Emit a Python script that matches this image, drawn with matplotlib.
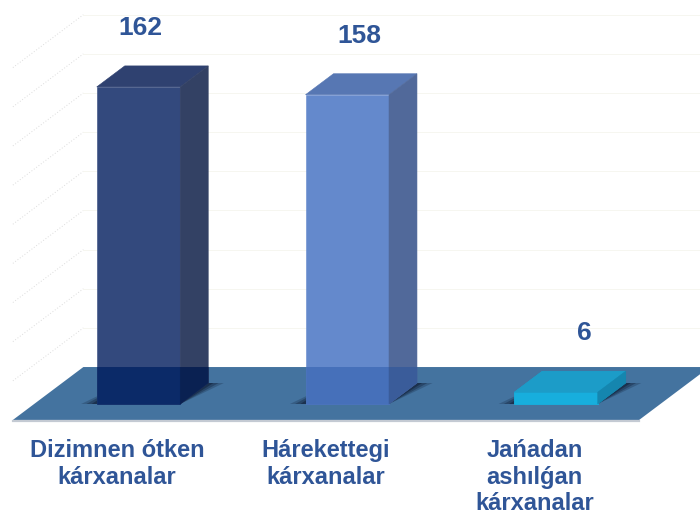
import matplotlib
matplotlib.use("Agg")
import matplotlib.pyplot as plt
from matplotlib.patches import Polygon

plt.rcParams['font.family'] = ['Liberation Sans', 'DejaVu Sans']

# data
categories = ["Dizimnen ótken\nkárxanalar", "Hárekettegi\nkárxanalar", "Jańadan\nashılǵan\nkárxanalar"]
values = [162, 158, 6]
grid_values = [20, 40, 60, 80, 100, 120, 140, 160, 180]

# colours: front, top, side (above floor) and front, top, side (inside floor)
upper_colors = [("#33497d", "#2f4170", "#334164"),
                ("#6489cc", "#5777b3", "#51699a"),
                ("#17aedd", "#1c9cc8", "#1586af")]
lower_colors = [("#0b2a68", "#0b2a68", "#0a2152"),
                ("#4670ba", "#4670ba", "#3a5c9a"),
                ("#17aedd", "#1c9cc8", "#1586af")]
text_color = "#2f5597"
floor_color = "#44739f"

# oblique projection (depth offsets in data units)
DX = 0.134
DY = 10.73
BAR_W = 0.40
FLOOR_D0, FLOOR_D1 = -0.76, 1.76
lab_dx = [-0.125, -0.075, 0.0]


def proj(x, v, d):
    return (x + d * DX, v + d * DY)


fig = plt.figure(figsize=(7, 5.14), dpi=100)
ax = fig.add_axes([0, 0, 1, 1])
ax.set_xlim(-0.6635, 2.6898)
ax.set_ylim(-56.2, 206.4)
ax.axis('off')

# grid lines: left wall and back wall (very faint)
for g in grid_values:
    p0 = proj(-0.5, g, FLOOR_D0)
    p1 = proj(-0.5, g, FLOOR_D1)
    ax.plot([p0[0], p1[0]], [p0[1], p1[1]], color="#dcdcdc", lw=0.7,
            ls=(0, (1, 2)), zorder=0)
    p2 = proj(2.5, g, FLOOR_D1)
    ax.plot([p1[0], p2[0]], [p1[1], p2[1]], color="#f6f6f0", lw=0.7, zorder=0)

# floor
n = len(values)
floor_pts = [proj(-0.5, 0, FLOOR_D0), proj(n - 0.5, 0, FLOOR_D0),
             proj(n - 0.5, 0, FLOOR_D1), proj(-0.5, 0, FLOOR_D1)]
floor = Polygon(floor_pts, closed=True, facecolor=floor_color, edgecolor="none", zorder=1)
ax.add_patch(floor)
ax.plot([floor_pts[0][0], floor_pts[1][0]], [floor_pts[0][1] - 0.6, floor_pts[1][1] - 0.6],
        color="#c4cad3", lw=1.6, zorder=1)

for i, v in enumerate(values):
    x0 = i - BAR_W / 2
    x1 = i + BAR_W / 2

    # shadow on the floor
    for k, a in [(0.075, 0.22), (0.05, 0.3), (0.025, 0.4)]:
        sh = [(x0 - k, 0), (x1, 0), proj(x1 + k, 0, 1), proj(x0, 0, 1)]
        ax.add_patch(Polygon(sh, closed=True, facecolor="#081228", edgecolor="none",
                             alpha=a, zorder=2))

    front = [(x0, 0), (x1, 0), (x1, v), (x0, v)]
    top = [(x0, v), (x1, v), proj(x1, v, 1), proj(x0, v, 1)]
    side = [(x1, 0), proj(x1, 0, 1), proj(x1, v, 1), (x1, v)]
    for face, cu, cl in zip([front, top, side], upper_colors[i], lower_colors[i]):
        ax.add_patch(Polygon(face, closed=True, facecolor=cu, edgecolor=cu, lw=0.4, zorder=3))
        p = Polygon(face, closed=True, facecolor=cl, edgecolor=cl, lw=0.4, zorder=4)
        ax.add_patch(p)
        p.set_clip_path(floor)

    # value label
    ax.text(i + DX + lab_dx[i], v + DY + 19.4, str(v), ha='center', va='center',
            fontsize=19, fontweight='bold', color=text_color, zorder=5)

    # category label at floor front edge
    ax.text(i + FLOOR_D0 * DX, -18.0, categories[i], ha='center', va='top',
            fontsize=17, fontweight='bold', color=text_color, linespacing=1.2, zorder=5)

fig.savefig("out.png", dpi=100)
